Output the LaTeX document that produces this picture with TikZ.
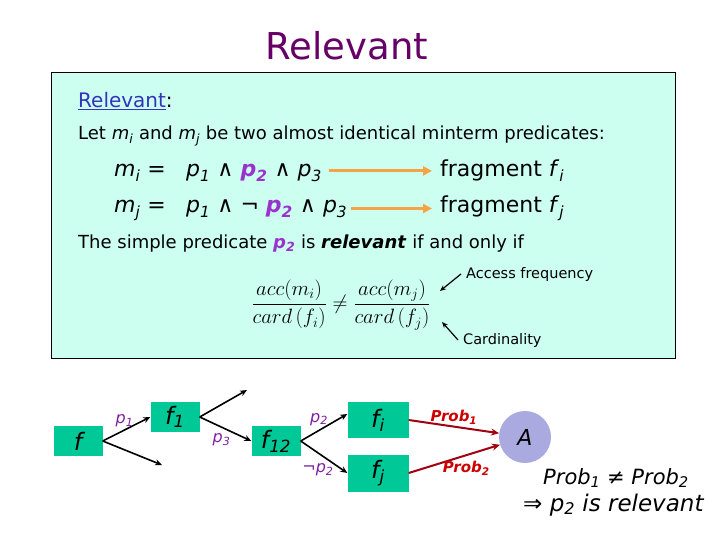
\documentclass[tikz,border=0pt]{standalone}
\usepackage{fontspec}
\setmainfont{DejaVu Sans}
\usetikzlibrary{arrows.meta}
\definecolor{titlepurple}{HTML}{660066}
\definecolor{panelcyan}{HTML}{CCFFF0}
\definecolor{linkblue}{HTML}{3333BB}
\definecolor{predpurple}{HTML}{9933CC}
\definecolor{labelpurple}{HTML}{7F1F9F}
\definecolor{fraggreen}{HTML}{00C896}
\definecolor{arroworange}{HTML}{F4A444}
\definecolor{probred}{HTML}{CC0000}
\definecolor{probline}{HTML}{A00010}
\definecolor{attrblue}{HTML}{AAAAE0}
\newcommand\setfs[1]{\fontsize{#1}{#1}\selectfont}
\newcommand\vsub[2]{\textit{#1}\textsubscript{\textit{#2}}}
\begin{document}
\begin{tikzpicture}[x=1pt,y=-1pt,
	every node/.style={inner sep=1pt},
	txt/.style={anchor=base west},
	fragbox/.style={fill=fraggreen,minimum width=49pt,minimum height=30pt,font=\setfs{24}\itshape},
	tree/.style={-{Stealth[length=7pt,width=6pt]},line width=1.6pt},
	prob/.style={-{Stealth[length=8pt,width=7pt]},line width=2pt,draw=probline},
	fragarrow/.style={arroworange,line width=3pt,-{Triangle[length=9pt,width=9pt]}},
	notearrow/.style={-{Stealth[length=6pt,width=5pt]},line width=1.2pt},
	edgelabel/.style={text=labelpurple,font=\setfs{16}\itshape},
	problabel/.style={text=probred,font=\setfs{15}\bfseries\itshape}]
\useasboundingbox (0,0) rectangle (720,540);
% title
\node[font=\setfs{37},text=titlepurple] (title) at (347,46) {Relevant};
% panel
\draw[fill=panelcyan,line width=1pt] (51,73) rectangle (675,358);
\node[txt,font=\setfs{20}] (heading) at (77,108) {\textcolor{linkblue}{\underline{Relevant}}:};
\node[txt,font=\setfs{18}] (letline) at (77,140)
	{Let \vsub{m}{i} and \vsub{m}{j} be two almost identical minterm predicates:};
\node[txt,font=\setfs{22}] (mi) at (113,177) {\vsub{m}{i} =};
\node[txt,font=\setfs{22}] (mipred) at (185,177)
	{\vsub{p}{1} ∧ \textcolor{predpurple}{\textbf{\vsub{p}{2}}} ∧ \vsub{p}{3}};
\node[txt,font=\setfs{22}] (fragi) at (439,177) {fragment \vsub{f}{i}};
\node[txt,font=\setfs{22}] (mj) at (113,213) {\vsub{m}{j} =};
\node[txt,font=\setfs{22}] (mjpred) at (185,213)
	{\vsub{p}{1} ∧ ¬ \textcolor{predpurple}{\textbf{\vsub{p}{2}}} ∧ \vsub{p}{3}};
\node[txt,font=\setfs{22}] (fragj) at (439,213) {fragment \vsub{f}{j}};
\draw[fragarrow] ([xshift=6pt]mipred.east |- fragi.west) -- ([xshift=-7pt]fragi.west);
\draw[fragarrow] ([xshift=3pt]mjpred.east |- fragj.west) -- ([xshift=-7pt]fragj.west);
\node[txt,font=\setfs{18}] (simple) at (77,248)
	{The simple predicate \textcolor{predpurple}{\textbf{\vsub{p}{2}}} is \textbf{\textit{relevant}} if and only if};
% ratio
\node[font=\setfs{21}] (ratio) at (341,305)
	{$\displaystyle \frac{acc(m_i)}{card\,(f_i)} \neq \frac{acc(m_j)}{card\,(f_j)}$};
\node[txt,font=\setfs{14.5}] (access) at (465,278) {Access frequency};
\node[txt,font=\setfs{14.5}] (cardinality) at (462,344) {Cardinality};
\coordinate (accend) at (440,291);
\coordinate (cardend) at (442,322);
\draw[notearrow] ([xshift=-4pt]access.west) -- (accend);
\draw[notearrow] ([xshift=-4pt]cardinality.west) -- (cardend);
% fragmentation tree
\node[fragbox] (f) at (78,441) {f};
\node[fragbox] (f1) at (175,417) {f\textsubscript{1}};
\node[fragbox] (f12) at (276,441) {f\textsubscript{12}};
\node[fragbox,minimum width=61pt,minimum height=36pt] (fi) at (378,420) {f\textsubscript{i}};
\node[fragbox,minimum width=61pt,minimum height=37pt] (fj) at (378,473) {f\textsubscript{j}};
\node[circle,fill=attrblue,minimum size=52pt,font=\setfs{22}\itshape] (A) at (525,437) {A};
\coordinate (fdown) at (162,465);
\coordinate (f1up) at (247,390);
\draw[tree] (f.east) -- node[edgelabel,above,xshift=-2pt] (lp1) {p\textsubscript{1}} (f1.west);
\draw[tree] (f.east) -- (fdown);
\draw[tree] (f1.east) -- (f1up);
\draw[tree] (f1.east) -- node[edgelabel,below=3pt,xshift=-4pt] (lp3) {p\textsubscript{3}} (f12.west);
\draw[tree] (f12.east) -- node[edgelabel,above,xshift=-5pt] (lp2) {p\textsubscript{2}} ([yshift=6pt]fi.west);
\draw[tree] (f12.east) -- node[edgelabel,below=5pt,xshift=-6pt] (lnp2) {¬p\textsubscript{2}} (fj.west);
\draw[prob] (fi.east) -- node[problabel,above] (lprob1) {Prob\textsubscript{1}} (A);
\draw[prob] (fj.east) -- node[problabel,below,xshift=12pt] (lprob2) {Prob\textsubscript{2}} (A);
% conclusion
\node[txt,font=\setfs{21}\itshape] (neq) at (542,484) {Prob\textsubscript{1} ≠ Prob\textsubscript{2}};
\node[txt,font=\setfs{23}] (concl) at (522,511) {⇒ \vsub{p}{2} \textit{is relevant}};
\end{tikzpicture}
\end{document}
